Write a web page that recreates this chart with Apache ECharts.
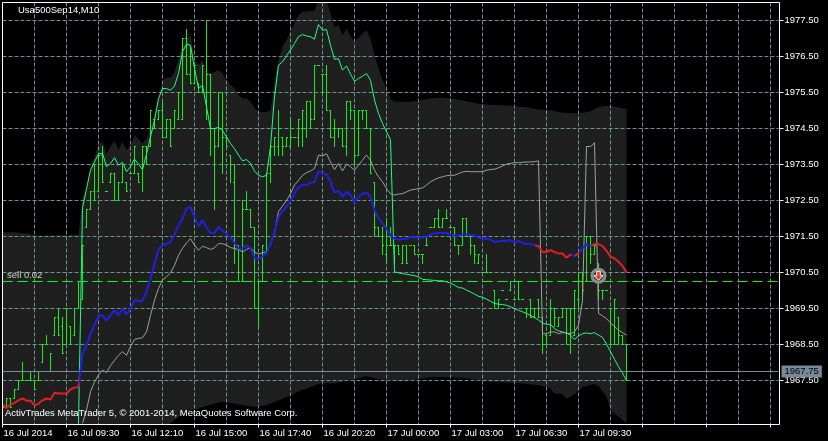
<!DOCTYPE html>
<html><head><meta charset="utf-8">
<style>html,body{margin:0;padding:0;background:#000}#c{width:828px;height:441px}</style>
<script src="https://cdn.jsdelivr.net/npm/echarts@6/dist/echarts.min.js"></script>
</head><body><div id="c"></div>
<script>
const xLabels=['16 Jul 2014','16 Jul 09:30','16 Jul 12:10','16 Jul 15:00','16 Jul 17:40','16 Jul 20:20','17 Jul 00:00','17 Jul 03:00','17 Jul 06:30','17 Jul 09:30'];
const yTicks=[1967.5,1968.5,1969.5,1970.5,1971.5,1972.5,1973.5,1974.5,1975.5,1976.5,1977.5];
const slots=195;
const highs=[1966.75,1967,1967,1967.25,1967.5,1968,1967.5,1967.75,1967.5,1967.75,
1968.5,1968.75,1968.25,1969.25,1969.5,1969.25,1969.5,1969,1969.5,1970.25,
1971.25,1972.25,1972.75,1973.5,1973.75,1974,1972.75,1973.25,1973.25,1973,
1973.5,1973,1973.25,1974,1973.25,1974,1974,1975,1974.75,1975,
1975.25,1974.75,1974.75,1975,1975.5,1977,1977.25,1976.75,1976.25,1975.75,
1976.25,1977.5,1976,1974.5,1975.5,1975.5,1974.25,1973.75,1973.5,1971.25,
1972.5,1972.75,1972.25,1971.75,1970.25,1971.25,1973.25,1974,1974.25,1975,
1974.25,1974.25,1974.75,1974.25,1974.75,1975,1975.25,1975.25,1976.25,1976.25,
1976,1976.25,1975,1974.75,1974.5,1974.5,1975.25,1975.25,1975,1975,
1975,1975,1974.5,1973,1971.75,1971.75,1972,1971.75,1971.25,1971.25,
1971.25,1971.25,1971.25,1971.25,1971,1971,1971.5,1971.75,1972,1972.25,
1972,1972.25,1971.75,1971.75,1971.25,1972,1972,1971.5,1971.25,1971,
1970.5,1971,1970.5,1970,1969.75,1970,1969.75,1970.25,1969.75,1970.25,
1969.75,1969.5,1969.75,1969.5,1969.75,1969.25,1968.75,1969.75,1969.5,1969.25,
1969.5,1969.5,1969.5,1970,1970.5,1970.5,1971.5,1971.5,1971.25,1970.75,
1970,1970,1969.5,1969.75,1969.25,1968.75,1968.5];
const lows=[1966.75,1966.75,1966.75,1967,1967.25,1967.5,1967.5,1967.5,1967.25,1967.5,
1968,1968.5,1967.75,1968.75,1968.75,1968.25,1968.5,1968.5,1968.75,1969.5,
1969.75,1971.75,1972.25,1972.5,1972.75,1973,1972.75,1973,1972.5,1972.5,
1973,1972.75,1973.25,1973.25,1973,1972.75,1973.5,1974,1974.5,1974.75,
1974.25,1974.25,1974,1974.5,1974.75,1974.75,1976,1975.75,1975.75,1975.5,
1975.5,1974.75,1973.75,1972.25,1974,1973.25,1974,1973,1970.75,1970.25,
1970.25,1972.25,1971.75,1969.5,1969,1970.25,1971,1973,1973.75,1973.75,
1973.75,1974,1974,1974.25,1974,1974,1974.25,1974.5,1974.75,1976.25,
1975.5,1975,1974.25,1974,1974.25,1974,1973.75,1974.75,1973.5,1973.75,
1974.75,1974.5,1973.25,1971.5,1971.5,1971,1970.75,1971.25,1970.75,1971,
1970.75,1970.75,1971.25,1971,1971,1970.75,1971.25,1971.75,1971.75,1971.75,
1971.75,1972,1971.75,1971.25,1971,1971.25,1971.5,1971,1970.75,1970.75,
1970.5,1970.5,1970.5,1969.5,1969.5,1970,1969.75,1970,1969.75,1969.75,
1969.75,1969.25,1969.25,1969.25,1969.25,1968.25,1968.5,1968.75,1969,1969,
1969.25,1968.5,1968.25,1968.75,1969.5,1969.75,1970.25,1970.75,1971,1969.75,
1969.75,1970,1968.5,1968.5,1968.5,1968.5,1967.5];
const opens=[1966.75,1966.75,1967,1967,1967.25,1967.5,1967.5,1967.5,1967.5,1967.5,
1968,1968.5,1967.75,1968.75,1969.25,1969,1968.5,1969,1968.75,1969.5,
1969.75,1971.75,1972.25,1972.75,1972.75,1973.75,1972.75,1973,1973.25,1972.5,
1973,1973,1973.25,1973.25,1973.25,1973.5,1974,1974,1974.75,1974.75,
1975,1974.25,1974.75,1974.5,1974.75,1974.75,1977,1976,1975.75,1975.75,
1975.5,1975.5,1976,1974.5,1974,1975.5,1974.25,1973.75,1973,1971.25,
1970.25,1972.25,1972.25,1971.75,1969.5,1970.25,1971,1973.25,1974,1974,
1974.25,1974,1974,1974.25,1974.25,1974.5,1974.5,1975.25,1974.75,1976.25,
1976,1976,1975,1974.25,1974.5,1974.5,1974,1975.25,1975,1973.75,
1975,1975,1974.5,1973,1971.75,1971.5,1971,1971.25,1971.25,1971.25,
1970.75,1971.25,1971.25,1971.25,1971,1971,1971.25,1971.75,1971.75,1972,
1971.75,1972,1971.75,1971.75,1971.25,1971.25,1972,1971.5,1971.25,1970.75,
1970.5,1970.5,1970.5,1970,1969.5,1970,1969.75,1970,1969.75,1970.25,
1969.75,1969.5,1969.75,1969.25,1969.75,1969.25,1968.75,1968.75,1969.5,1969,
1969.25,1969.5,1968.5,1968.75,1969.75,1970.5,1970.25,1971.5,1971,1970.75,
1970,1970,1969.5,1968.5,1969.25,1968.75,1968.5];
const closes=[1966.75,1967,1966.75,1967.25,1967.5,1967.5,1967.5,1967.5,1967.25,1967.75,
1968.5,1968.5,1968.25,1969.25,1968.75,1968.25,1969.5,1968.5,1969.5,1970.25,
1971.25,1972.25,1972.75,1972.5,1973.75,1973,1972.75,1973.25,1972.5,1973,
1973.5,1972.75,1973.25,1974,1973,1974,1973.5,1975,1974.5,1975,
1974.25,1974.75,1974,1975,1975.5,1977,1976,1975.75,1976.25,1975.5,
1976.25,1976,1974.5,1974,1975.5,1974.25,1974,1973.5,1971.25,1970.25,
1972.25,1972.25,1971.75,1969.5,1970.25,1971.25,1973.25,1974,1974.25,1974.5,
1974,1974.25,1974.25,1974.25,1974.75,1975,1975.25,1974.75,1976.25,1976.25,
1976,1975,1974.25,1974.5,1974.5,1974,1975.25,1975,1973.75,1975,
1975,1974.5,1973.25,1971.75,1971.5,1971.25,1971.25,1971.25,1971.25,1971,
1971.25,1970.75,1971.25,1971,1971,1971,1971.25,1971.75,1972,1971.75,
1972,1972,1971.75,1971.25,1971.25,1972,1971.5,1971.25,1971,1971,
1970.5,1970.5,1970.5,1969.5,1969.75,1970,1969.75,1970.25,1969.75,1969.75,
1969.75,1969.5,1969.25,1969.5,1969.25,1968.5,1968.5,1969.5,1969.25,1969.25,
1969.5,1968.5,1969.5,1970,1970.5,1970,1971.5,1971,1971.25,1970,
1970,1970,1968.5,1969.75,1968.75,1968.5,1967.5];
const thick=[1966.83,1966.74,1966.83,1966.88,1966.95,1967,1966.94,1966.94,1966.81,1966.86,
1966.95,1967,1966.97,1967.16,1967.14,1967.14,1967.14,1967.25,1967.3,1967.31,
1968.25,1968.48,1968.78,1969.04,1969.29,1969.31,1969.16,1969.31,1969.45,1969.31,
1969.5,1969.33,1969.5,1969.73,1969.71,1969.71,1969.96,1970.33,1970.75,1971.14,
1971.26,1971.29,1971.35,1971.56,1971.81,1972,1972.28,1972.32,1972.05,1971.79,
1971.95,1971.75,1971.6,1971.6,1971.77,1971.66,1971.57,1971.47,1971.32,1971.17,
1971.17,1971.25,1971.17,1970.91,1970.87,1970.94,1971.03,1971.3,1971.63,1972.05,
1972.21,1972.34,1972.48,1972.69,1972.86,1972.94,1972.93,1972.99,1973.02,1973.32,
1973.25,1973.23,1973.02,1972.72,1972.77,1972.6,1972.74,1972.65,1972.44,1972.6,
1972.69,1972.72,1972.6,1972.23,1972,1971.86,1971.72,1971.54,1971.44,1971.42,
1971.43,1971.44,1971.49,1971.47,1971.47,1971.47,1971.49,1971.56,1971.58,1971.6,
1971.6,1971.6,1971.56,1971.52,1971.52,1971.56,1971.56,1971.55,1971.52,1971.47,
1971.44,1971.44,1971.42,1971.35,1971.36,1971.38,1971.38,1971.4,1971.34,1971.38,
1971.32,1971.29,1971.29,1971.26,1971.23,1971.07,1971.07,1971.12,1971.07,1971.03,
1971.03,1970.91,1971,1970.96,1971.03,1971.17,1971.28,1971.23,1971.29,1971.29,
1971.24,1971.1,1970.94,1970.89,1970.8,1970.68,1970.5];
const thickPieces=[[-1,19,'#e01f1f'],[19,133,'#1f1fe0'],[133,142,'#e01f1f'],[142,143,'#1f1fe0'],[143,144,'#e01f1f'],[144,147,'#1f1fe0'],[147,200,'#e01f1f']];
const spring=[1966.3,1972.3,1972.83,1973.34,1973.57,1973.79,1973.81,1973.44,1973.53,1973.69,1973.48,
1973.56,1973.3,1973.44,1973.65,1973.51,1973.36,1973.79,1974.27,1974.73,1975.33,
1975.61,1975.61,1975.56,1975.68,1976.03,1976.63,1976.84,1976.81,1976.17,1975.61,
1975.7,1975.1,1974.5,1974.5,1974.53,1974.44,1974.27,1974.08,1973.94,1973.76,
1973.6,1973.64,1973.53,1973.32,1973.2,1973.16,1973.2,1974,1975.38,1976.26,
1976.35,1976.52,1976.68,1976.86,1977.05,1977.11,1977.07,1977.05,1976.98,1977.39,
1977.23,1977.25,1976.81,1976.42,1976.44,1976.12,1976.24,1976.01,1975.81,1975.89,
1975.95,1976.03,1975.84,1975.29,1974.92,1974.64,1974.41,1974.19,1970.52,1970.49,
1970.47,1970.45,1970.43,1970.41,1970.38,1970.31,1970.3,1970.29,1970.28,1970.27,
1970.27,1970.24,1970.21,1970.15,1970.08,1970.07,1970.01,1969.96,1969.9,1969.84,
1969.81,1969.76,1969.7,1969.64,1969.62,1969.61,1969.59,1969.55,1969.5,1969.45,
1969.41,1969.36,1969.31,1969.25,1969.18,1969.1,1969.06,1969.06,1968.94,1968.88,
1968.85,1968.82,1968.76,1968.64,1968.74,1968.8,1968.82,1968.8,1968.83,1968.76,
1968.7,1968.51,1968.3,1968.09,1967.88,1967.71,1967.49];
const grey=[1966.31,1966.68,1967.19,1967.46,1967.65,1967.79,1967.72,1967.91,1968.06,1968.2,
1968.3,1968.2,1968.45,1968.64,1968.67,1968.69,1968.85,1969.31,1969.73,1970.06,
1970.29,1970.38,1970.49,1970.7,1970.98,1971.17,1971.32,1971.44,1971.26,1971.12,
1971.23,1971.19,1971.14,1971.19,1971.3,1971.3,1971.26,1971.19,1971.17,1971.14,
1971.07,1971.14,1971.19,1971.07,1971.01,1971.05,1971.07,1971.3,1971.6,1972.2,
1972.35,1972.5,1972.69,1972.93,1973.06,1973.2,1973.27,1973.32,1973.39,1973.76,
1973.74,1973.8,1973.57,1973.36,1973.53,1973.32,1973.51,1973.44,1973.34,1973.48,
1973.62,1973.76,1973.62,1973.34,1973.16,1973.02,1972.83,1972.69,1972.65,1972.68,
1972.69,1972.74,1972.79,1972.81,1972.83,1972.85,1972.93,1973.02,1973.08,1973.13,
1973.16,1973.19,1973.2,1973.2,1973.25,1973.29,1973.31,1973.3,1973.3,1973.3,
1973.3,1973.34,1973.36,1973.37,1973.41,1973.46,1973.51,1973.53,1973.55,1973.55,
1973.56,1973.57,1973.57,1973.58,1973.6,1968.8,1968.8,1968.85,1968.85,1968.8,
1968.83,1968.82,1968.8,1968.85,1969.04,1969.73,1974,1974,1974.1,1969.36,
1969.3,1969.22,1969.1,1969,1968.9,1968.83,1968.76];
const bandUpper=[[0,1971.62],[3,1971.62],[6,1971.58],[9,1971.52],[19,1971.54],[20,1972.6],[21,1972.79],[22,1973.48],[23,1973.71],[24,1974.08],[25,1974.13],[26,1973.81],[27,1973.99],[28,1974.16],[29,1973.9],[30,1974.13],[31,1973.9],[32,1974.04],[33,1974.31],[34,1974.22],[35,1974.08],[36,1974.22],[37,1974.5],[38,1974.92],[39,1975.38],[40,1975.84],[41,1975.91],[42,1975.91],[43,1976.07],[44,1976.44],[45,1976.86],[46,1977],[47,1977.09],[48,1976.4],[49,1976.26],[50,1976.4],[51,1976.03],[52,1976.03],[53,1976.07],[54,1976.12],[55,1976.03],[56,1975.84],[57,1975.7],[58,1975.61],[59,1975.43],[60,1975.33],[61,1975.33],[62,1975.24],[63,1975.06],[64,1974.98],[65,1974.96],[66,1974.96],[67,1975.01],[68,1975.84],[69,1976.4],[70,1976.77],[71,1976.95],[72,1977.21],[73,1977.42],[74,1977.65],[75,1977.74],[78,1977.77],[79,1978.1],[81,1978.1],[82,1977.69],[83,1977.32],[84,1977.37],[85,1977.09],[86,1977.28],[87,1977.06],[88,1976.91],[89,1977.03],[90,1977.14],[91,1977.23],[92,1977],[93,1976.54],[94,1976.17],[95,1975.84],[96,1975.64],[97,1975.33],[98,1975.24],[102,1975.24],[104,1975.27],[107,1975.33],[110,1975.36],[113,1975.32],[116,1975.26],[119,1975.19],[122,1975.16],[127,1975.13],[131,1975.09],[134,1975.03],[137,1975.01],[140,1974.94],[144,1974.92],[147,1974.98],[149,1975.1],[152,1975.14],[154,1975.08],[156,1975.04]];
const bandLower=[[0,1966],[41,1966.1],[42,1966.31],[44,1966.49],[47,1966.68],[49,1966.72],[53,1966.86],[55,1966.91],[58,1966.86],[60,1966.81],[63,1966.77],[66,1966.81],[69,1966.95],[72,1967.08],[74,1967.2],[76,1967.27],[78,1967.36],[80,1967.44],[82,1967.42],[84,1967.44],[86,1967.49],[88,1967.53],[91,1967.62],[93,1967.56],[96,1967.49],[101,1967.48],[105,1967.56],[108,1967.6],[112,1967.6],[116,1967.56],[120,1967.48],[127,1967.44],[130,1967.42],[134,1967.37],[136,1967.32],[137,1967.28],[138,1967.14],[140,1967.12],[141,1967],[142,1967.05],[143,1967.12],[145,1967.32],[148,1967.4],[149,1967.35],[151,1967.05],[152,1966.68],[154,1966.49],[156,1966.32]];
const priceNow=1967.75, orderPrice=1970.25, tradeIndex=149, tradePrice=1970.41;
const yMax=1978, yMin=1978-422/36;
const font='"Liberation Sans"';

const categories=Array.from({length:slots},(_,i)=>i%16===0?(xLabels[i/16]||''):'');
const pad=(n,a)=>Array(n).fill(null).concat(a);
const bars=highs.map((h,i)=>[i,opens[i],h,lows[i],closes[i]]);

function renderBand(p,api){
  const up=bandUpper.map(d=>api.coord(d)), lo=bandLower.map(d=>api.coord(d)).reverse();
  const pts=up.concat(lo);
  const cs=p.coordSys, kids=[];
  const hline=(v,color,dash)=>{const y=api.coord([0,v])[1];kids.push({type:'line',shape:{x1:cs.x,y1:y,x2:cs.x+cs.width,y2:y},style:{stroke:color,lineWidth:1,lineDash:dash}});};
  yTicks.forEach(v=>hline(v,'#689786',[4,2]));
  for(let i=8;i<160;i+=8){const x=api.coord([i,yMax])[0];kids.push({type:'line',shape:{x1:x,y1:cs.y,x2:x,y2:cs.y+cs.height},style:{stroke:'#689786',lineWidth:1,lineDash:[4,2]}});}
  hline(priceNow,'#7a9a8c',null);
  hline(orderPrice,'#1fe01f',[10,5]);
  return {type:'group',children:[
    {type:'polygon',shape:{points:pts},style:{fill:'#1f1f1f'}},
    {type:'group',clipPath:{type:'polygon',shape:{points:pts}},children:kids}
  ]};
}
function renderBar(p,api){
  const i=api.value(0);
  const o=api.coord([i,api.value(1)]),h=api.coord([i,api.value(2)]),l=api.coord([i,api.value(3)]),c=api.coord([i,api.value(4)]);
  const st={stroke:'#12ee12',lineWidth:1};
  return {type:'group',children:[
    {type:'line',shape:{x1:h[0],y1:h[1]-0.5,x2:l[0],y2:l[1]+0.5},style:st},
    {type:'line',shape:{x1:o[0]-1.5,y1:o[1],x2:o[0],y2:o[1]},style:st},
    {type:'line',shape:{x1:c[0],y1:c[1],x2:c[0]+1.5,y2:c[1]},style:st}
  ]};
}
const chart=echarts.init(document.getElementById('c'),null,{renderer:'canvas'});
chart.setOption({
  animation:false,backgroundColor:'#000',
  textStyle:{fontFamily:font},
  grid:{left:2.5,top:2.5,width:776,height:422,show:false},
  xAxis:{type:'category',data:categories,boundaryGap:false,
    axisLine:{show:false},
    axisTick:{show:true,length:3,interval:i=>i%16===0,lineStyle:{color:'#fff'}},
    axisLabel:{show:true,interval:i=>i%16===0,align:'left',color:'#fff',fontSize:9.5,fontFamily:font,margin:4,padding:[0,0,0,1]},
    splitLine:{show:true,interval:i=>i%8===0&&i>0,lineStyle:{color:'#778899',type:[4,2],width:1}}},
  yAxis:{type:'value',position:'right',offset:1,min:yMin,max:yMax,
    axisLine:{show:false},
    axisTick:{show:true,length:4,customValues:yTicks,lineStyle:{color:'#fff'}},
    axisLabel:{show:true,customValues:yTicks,color:'#fff',fontSize:9.5,fontFamily:font,margin:5,formatter:v=>v.toFixed(2)},
    splitLine:{show:true,lineStyle:{color:'#778899',type:[4,2],width:1}}},
  visualMap:{show:false,type:'piecewise',seriesIndex:2,dimension:0,
    pieces:thickPieces.map(p=>({gt:p[0],lte:p[1],color:p[2]}))},
  series:[
    {type:'custom',z:1,silent:true,clip:true,data:[[0]],renderItem:renderBand},
    {type:'custom',z:3,silent:true,clip:true,data:bars,encode:{x:0,y:[1,2,3,4]},renderItem:renderBar},
    {type:'line',z:5,name:'thick',data:thick,symbol:'none',lineStyle:{width:2}},
    {type:'line',z:4,name:'spring',data:pad(19,spring),symbol:'none',connectNulls:false,lineStyle:{width:1,color:'#20ff80'}},
    {type:'line',z:4,name:'grey',data:pad(20,grey),symbol:'none',lineStyle:{width:1,color:'#9f9f9f'},
      markLine:{silent:true,symbol:'none',animation:false,data:[
        {yAxis:priceNow,lineStyle:{color:'#778899',type:'solid',width:1},
         label:{show:true,position:'end',distance:3,formatter:'1967.75',color:'#000',fontSize:9.5,fontFamily:font,backgroundColor:'#778899',padding:[1,3,1,3]}},
        {yAxis:orderPrice,lineStyle:{color:'#00ff00',type:[10,5],width:1},label:{show:false}}
      ]}},
    {type:'scatter',z:6,silent:true,symbol:'circle',symbolSize:13,data:[[tradeIndex,tradePrice]],
      itemStyle:{color:'#3a3a3a',borderColor:'#8c8c8c',borderWidth:3,opacity:1}},
    {type:'scatter',z:7,silent:true,symbol:'path://M3 0H7V5H10L5 10L0 5H3Z',symbolSize:9,data:[[tradeIndex,tradePrice]],
      itemStyle:{color:'#e8401f',borderColor:'#fff',borderWidth:1,opacity:1}}
  ],
  graphic:[
    {type:'rect',z:100,silent:true,shape:{x:2.5,y:2.5,width:777,height:422},style:{fill:null,stroke:'#fff',lineWidth:1}},
    {type:'text',z:100,silent:true,x:18,y:5,style:{text:'Usa500Sep14,M10',fill:'#fff',font:'9.5px '+font}},
    {type:'text',z:100,silent:true,x:7,y:270,style:{text:'sell 0.02',fill:'#d0d0d0',font:'9.5px '+font}},
    {type:'text',z:100,silent:true,x:5,y:408,style:{text:'ActivTrades MetaTrader 5, © 2001-2014, MetaQuotes Software Corp.',fill:'#fff',font:'9.5px '+font}}
  ]
});
</script></body></html>
